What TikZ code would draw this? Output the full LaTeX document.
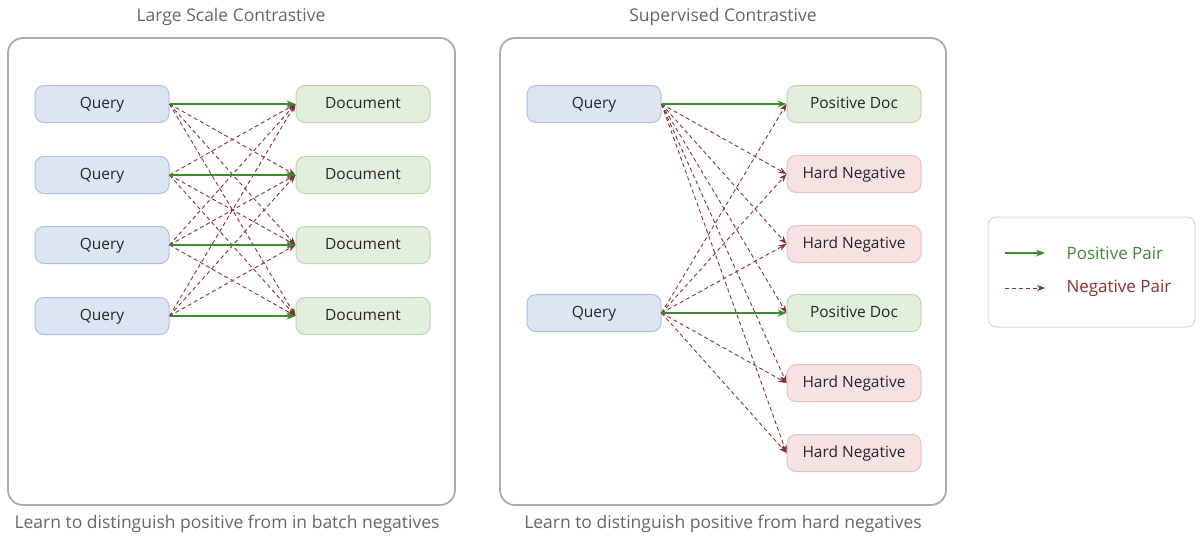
\documentclass[tikz,border=0pt]{standalone}
\usepackage{fontspec}
\setmainfont{Open Sans}
\usetikzlibrary{arrows.meta}
\definecolor{qfill}{HTML}{DCE6F3}
\definecolor{qline}{HTML}{A9C1E2}
\definecolor{dfill}{HTML}{E2EFDC}
\definecolor{dline}{HTML}{B9D9AF}
\definecolor{nfill}{HTML}{F5E2E1}
\definecolor{nline}{HTML}{E6C2C0}
\definecolor{posgreen}{HTML}{3D8B2E}
\definecolor{negred}{HTML}{8A2F2F}
\definecolor{panelgrey}{HTML}{ABABAB}
\definecolor{textgrey}{HTML}{666666}
\tikzset{
  box/.style={draw, rounded corners=9pt, minimum width=134pt, minimum height=37pt,
    text height=0.8em, text depth=0pt,
    line width=1pt, text=black!85, font=\fontsize{15.5}{18}\selectfont},
  query/.style={box, draw=qline, fill=qfill},
  doc/.style={box, draw=dline, fill=dfill},
  hardneg/.style={box, draw=nline, fill=nfill},
  posarrow/.style={-{Stealth[length=9pt,width=7pt]}, line width=1.8pt, posgreen},
  negarrow/.style={-{Stealth[length=8pt,width=6pt]}, dash pattern=on 4pt off 3pt, line width=0.9pt, negred},
  panel/.style={draw=panelgrey, line width=1.8pt, rounded corners=15pt},
  caption/.style={text=textgrey, font=\fontsize{17.5}{20}\selectfont},
  legendtext/.style={anchor=west, font=\fontsize{17}{20}\selectfont},
}
\begin{document}
\begin{tikzpicture}[x=1pt, y=-1pt]
    \useasboundingbox (0,0) rectangle (1200,547);
    % panels
    \draw[panel] (8,38) rectangle (455,505);
    \draw[panel] (500,38) rectangle (946,505);
    \node[caption] (ltitle) at (231,17) {Large Scale Contrastive};
    \node[caption] (rtitle) at (723,17) {Supervised Contrastive};
    \node[caption] (lnote) at (227,524) {Learn to distinguish positive from in batch negatives};
    \node[caption] (rnote) at (723,524) {Learn to distinguish positive from hard negatives};
    % in-batch negatives
    \foreach \i/\y in {1/104,2/175,3/245,4/316} {
        \node[query] (lq\i) at (102,\y) {Query};
        \node[doc] (ld\i) at (363,\y) {Document};
    }
    \foreach \i in {1,...,4} {
        \foreach \j in {1,...,4} {
            \ifnum\i=\j\relax\else \draw[negarrow] (lq\i.east) -- (ld\j.west); \fi
        }
    }
    \foreach \i in {1,...,4}
        \draw[posarrow] (lq\i.east) -- (ld\i.west);
    % hard negatives
    \node[query] (rq1) at (594,104) {Query};
    \node[query] (rq2) at (594,313) {Query};
    \node[doc] (rd1) at (854,104) {Positive Doc};
    \node[hardneg] (rd2) at (854,174) {Hard Negative};
    \node[hardneg] (rd3) at (854,244) {Hard Negative};
    \node[doc] (rd4) at (854,313) {Positive Doc};
    \node[hardneg] (rd5) at (854,383) {Hard Negative};
    \node[hardneg] (rd6) at (854,453) {Hard Negative};
    \foreach \j in {2,3,4,5,6}
        \draw[negarrow] (rq1.east) -- (rd\j.west);
    \foreach \j in {1,2,3,5,6}
        \draw[negarrow] (rq2.east) -- (rd\j.west);
    \draw[posarrow] (rq1.east) -- (rd1.west);
    \draw[posarrow] (rq2.east) -- (rd4.west);
    % legend
    \draw[draw=black!15, line width=1pt, rounded corners=8pt] (988,217) rectangle (1195,327);
    \coordinate (pa) at (1005,253);
    \coordinate (pb) at (1045,253);
    \coordinate (na) at (1005,288);
    \coordinate (nb) at (1045,288);
    \draw[posarrow, line width=1.4pt] (pa) -- (pb);
    \draw[negarrow] (na) -- (nb);
    \node[legendtext, text=posgreen] (ptext) at (1063,253) {Positive Pair};
    \node[legendtext, text=negred] (ntext) at (1063,288) {Negative Pair};
\end{tikzpicture}
\end{document}
